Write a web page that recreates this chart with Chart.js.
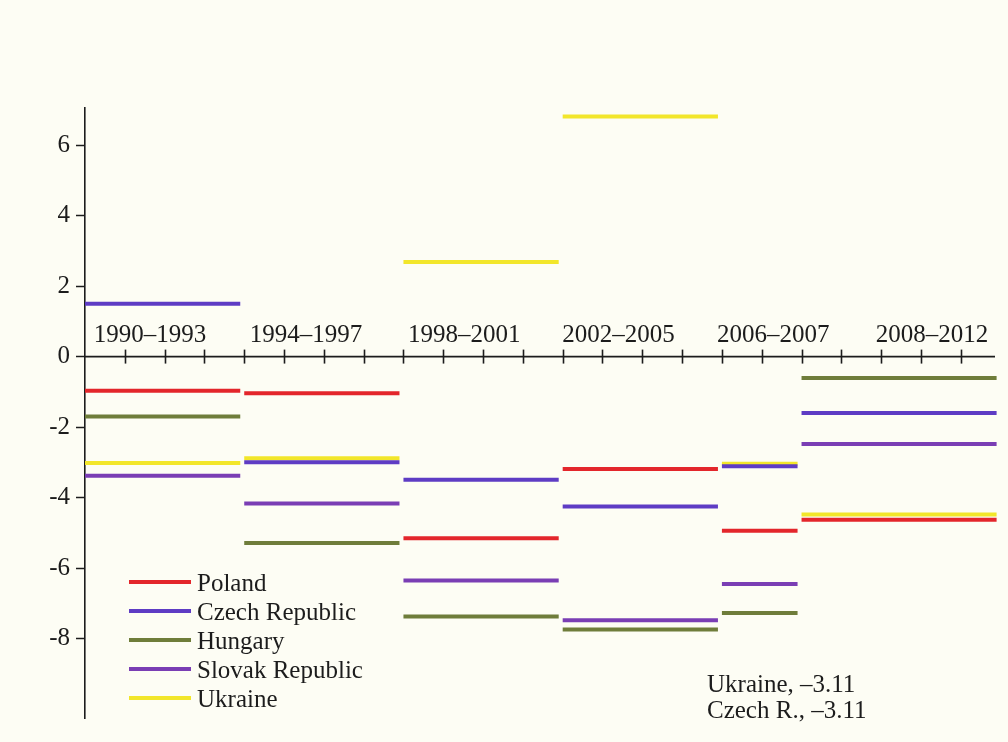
<!DOCTYPE html>
<html>
<head>
<meta charset="utf-8">
<script src="https://cdn.jsdelivr.net/npm/chart.js@4"></script>
<style>
  html, body { margin: 0; padding: 0; background: #fdfdf4; }
  canvas { display: block; }
</style>
</head>
<body>
<canvas id="c" width="1008" height="742"></canvas>
<script>
// ---- data ----
const periods    = ['1990–1993', '1994–1997', '1998–2001', '2002–2005', '2006–2007', '2008–2012'];
const startYears = [1990, 1994, 1998, 2002, 2006, 2008];
const endYears   = [1993, 1997, 2001, 2005, 2007, 2012];
const countries  = ['Poland', 'Czech Republic', 'Hungary', 'Slovak Republic', 'Ukraine'];
const poland  = [-0.97, -1.04, -5.15, -3.19, -4.94, -4.63];
const czech   = [1.50, -3.00, -3.49, -4.25, -3.11, -1.60];
const hungary = [-1.70, -5.29, -7.37, -7.74, -7.27, -0.61];
const slovak  = [-3.38, -4.17, -6.35, -7.48, -6.45, -2.48];
const ukraine = [-3.02, -2.88, 2.68, 6.81, -3.04, -4.48];
const yTicks  = [-8, -6, -4, -2, 0, 2, 4, 6];
const noteLines = ['Ukraine, –3.11', 'Czech R., –3.11'];

// ---- styles ----
const colors = ['#e3262b', '#5e3cc4', '#6f7d3a', '#7a3eb4', '#f2e62a'];
const FONT = '"Liberation Serif", "DejaVu Serif", serif';
const INK = '#1c1c1c';
const SEG_LEN = 0.9;

function segments(values) {
  const out = [];
  values.forEach((v, i) => {
    out.push({ x: startYears[i], y: v });
    out.push({ x: endYears[i] + SEG_LEN, y: v });
    out.push({ x: endYears[i] + SEG_LEN + 0.05, y: null });
  });
  return out;
}
const series = [poland, czech, hungary, slovak, ukraine];
const datasets = series.map((vals, i) => ({
  label: countries[i],
  data: segments(vals),
  borderColor: colors[i],
  backgroundColor: colors[i],
  borderWidth: 4,
  pointRadius: 0,
  spanGaps: false,
  tension: 0,
  clip: false,
  order: i === 4 ? 5 : 0
}));

const decorPlugin = {
  id: 'decor',
  afterDatasetsDraw(chart, args, opts) {
    const ctx = chart.ctx;
    const xs = chart.scales.x, ys = chart.scales.y;
    const area = chart.chartArea;
    const y0 = ys.getPixelForValue(0);
    ctx.save();
    // horizontal axis at zero
    ctx.strokeStyle = INK;
    ctx.lineWidth = 1.6;
    ctx.beginPath();
    ctx.moveTo(area.left, y0);
    ctx.lineTo(area.right, y0);
    ctx.stroke();
    for (let yr = startYears[0] + 1; yr <= endYears[endYears.length - 1]; yr++) {
      const px = Math.round(xs.getPixelForValue(yr)) + 0.5;
      ctx.beginPath();
      ctx.moveTo(px, y0 - 7);
      ctx.lineTo(px, y0 + 7);
      ctx.stroke();
    }
    // period labels
    ctx.fillStyle = INK;
    ctx.font = '25px ' + FONT;
    ctx.textAlign = 'center';
    ctx.textBaseline = 'alphabetic';
    periods.forEach((p, i) => {
      ctx.fillText(p, xs.getPixelForValue(opts.labelAnchors[i]), y0 - 15);
    });
    // legend
    const L = opts.legend;
    countries.forEach((c, i) => {
      const y = L.top + i * L.step;
      ctx.strokeStyle = colors[i];
      ctx.lineWidth = 4;
      ctx.beginPath();
      ctx.moveTo(L.left, y);
      ctx.lineTo(L.left + L.lineLen, y);
      ctx.stroke();
      ctx.fillStyle = INK;
      ctx.textAlign = 'left';
      ctx.textBaseline = 'middle';
      ctx.fillText(c, L.left + L.lineLen + 6, y + 2);
    });
    // note
    const N = opts.note;
    ctx.textAlign = 'left';
    ctx.textBaseline = 'alphabetic';
    noteLines.forEach((t, i) => ctx.fillText(t, N.left, N.top + i * N.step));
    ctx.restore();
  }
};

new Chart(document.getElementById('c'), {
  type: 'line',
  data: { datasets },
  options: {
    responsive: false,
    animation: false,
    devicePixelRatio: 1,
    layout: { padding: { top: 108, right: 13, bottom: 24, left: 0 } },
    plugins: {
      legend: { display: false },
      tooltip: { enabled: false },
      decor: {
        labelAnchors: [1991.63, 1995.55, 1999.53, 2003.4, 2007.29, 2011.28],
        legend: { left: 129, top: 582, step: 29, lineLen: 62 },
        note: { left: 707, top: 692, step: 26 }
      }
    },
    scales: {
      x: { type: 'linear', min: 1990, max: 2012.86, display: false },
      y: {
        min: -10.25, max: 7.05,
        afterBuildTicks: s => { s.ticks = yTicks.map(v => ({ value: v })); },
        afterFit: s => { s.width = 85; },
        grid: { drawOnChartArea: false, drawTicks: true, tickLength: 9, tickWidth: 1.5, color: INK },
        border: { display: true, color: INK, width: 1.6 },
        ticks: {
          color: INK, padding: 6,
          font: { family: FONT, size: 25 },
          callback: v => (v < 0 ? '-' + Math.abs(v) : String(v))
        }
      }
    }
  },
  plugins: [decorPlugin]
});
</script>
</body>
</html>
